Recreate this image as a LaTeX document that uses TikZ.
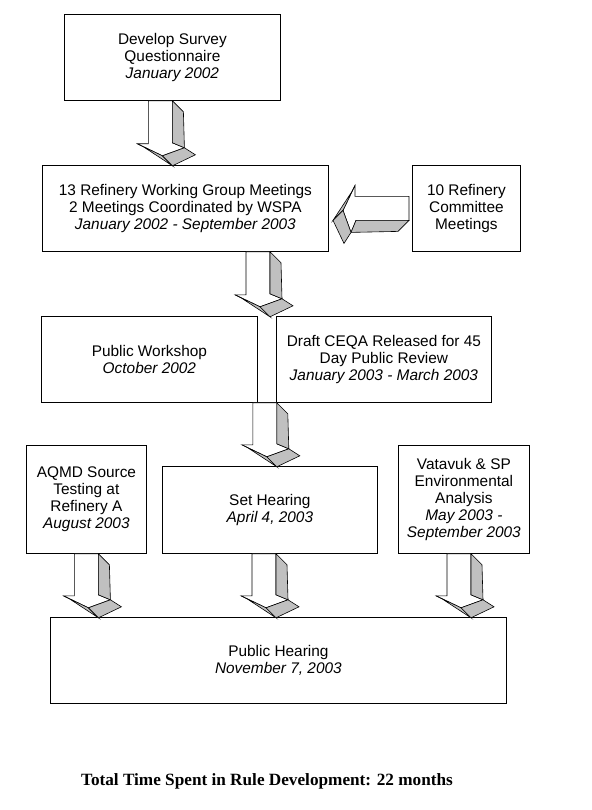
\documentclass[tikz,border=0pt]{standalone}
\usepackage{fontspec}
\setmainfont{Liberation Sans}
\newfontfamily\titlefont{Liberation Serif}
\usetikzlibrary{calc}
\definecolor{arrgray}{RGB}{192,192,192}
\tikzset{
  box/.style={draw=black, line width=0.8pt, fill=white, anchor=north west, inner sep=0pt,
    align=center, font=\fontsize{15.4}{17}\selectfont},
  face/.style={draw=black, line width=0.6pt, line join=miter},
}
\newcommand\tdarrow[3]{%
  \begin{scope}[shift={#1}, rotate=#3]
    \filldraw[face, fill=white] (0,0) -- (24,0) -- (24,{#2-1}) -- (36,{#2+4}) -- (14,{#2+12}) -- (-11,#2) -- (0,#2) -- cycle;
    \filldraw[face, fill=arrgray] (24,0) -- (35,11) -- (36,{#2+4}) -- (24,{#2-1}) -- cycle;
    \filldraw[face, fill=arrgray] (-11,#2) -- (14,{#2+12}) -- (24,{#2+22}) -- (-5,{#2+3}) -- cycle;
    \filldraw[face, fill=arrgray] (14,{#2+12}) -- (36,{#2+4}) -- (47,{#2+11}) -- (24,{#2+22}) -- cycle;
  \end{scope}}
\begin{document}
\begin{tikzpicture}[x=1pt, y=-1pt]
  \useasboundingbox[fill=white] (0,0) rectangle (591,810);

  \node[box, minimum width=216pt, minimum height=86pt] (b1) at (64,14)
    {Develop Survey\\Questionnaire\\\textit{January 2002}};
  \node[box, minimum width=286pt, minimum height=86pt] (b2) at (42,165)
    {13 Refinery Working Group Meetings\\2 Meetings Coordinated by WSPA\\\textit{January 2002 - September 2003}};
  \node[box, minimum width=108pt, minimum height=86pt] (b3) at (412,165)
    {10 Refinery\\Committee\\Meetings};
  \node[box, minimum width=216pt, minimum height=86pt] (b4) at (41,316)
    {Public Workshop\\\textit{October 2002}};
  \node[box, minimum width=215pt, minimum height=86pt] (b5) at (276,316)
    {Draft CEQA Released for 45\\Day Public Review\\\textit{January 2003 - March 2003}};
  \draw[line width=0.8pt] (b4.south east) -- (b5.south west);
  \node[box, minimum width=120pt, minimum height=108pt] (b6) at (26,445)
    {AQMD Source\\Testing at\\Refinery A\\\textit{August 2003}};
  \node[box, minimum width=215pt, minimum height=87pt] (b7) at (162,466)
    {Set Hearing\\\textit{April 4, 2003}};
  \node[box, minimum width=131pt, minimum height=108pt] (b8) at (398,445)
    {Vatavuk \& SP\\Environmental\\Analysis\\\textit{May 2003 -}\\\textit{September 2003}};
  \node[box, minimum width=456pt, minimum height=86pt] (b9) at (50,617)
    {Public Hearing\\\textit{November 7, 2003}};

  \tdarrow{($(b1.south)+(-24,0)$)}{43}{0}
  \tdarrow{($(b3.west)+(-3,-12)$)}{54}{-90}
  \tdarrow{($(b2.south west)+(204,0)$)}{43}{0}
  \tdarrow{($(b4.south east)+(-5,0)$)}{42}{0}
  \tdarrow{($(b6.south)+(-12,0)$)}{42}{0}
  \tdarrow{($(b7.south west)+(90,0)$)}{42}{0}
  \tdarrow{($(b8.south west)+(49,0)$)}{42}{0}

  \node[font=\titlefont\bfseries\fontsize{17.2}{20}\selectfont] (title) at (267,781)
    {Total Time Spent in Rule Development: 22 months};
\end{tikzpicture}
\end{document}
